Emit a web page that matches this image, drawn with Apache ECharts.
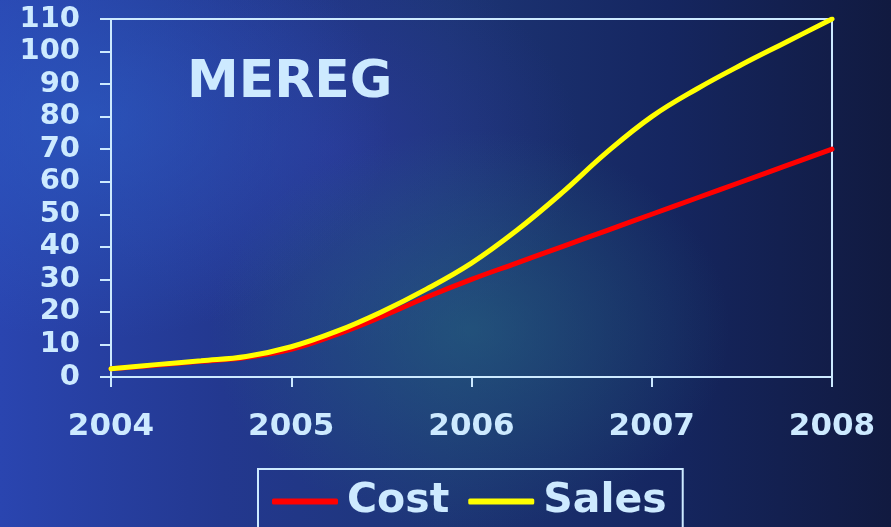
<!DOCTYPE html>
<html>
<head>
<meta charset="utf-8">
<script src="https://cdn.jsdelivr.net/npm/echarts@6/dist/echarts.min.js"></script>
<style>
html,body{margin:0;padding:0;width:891px;height:527px;overflow:hidden;}
body{
  background:
    radial-gradient(ellipse 260px 200px at 470px 330px, rgba(40,110,130,0.5), rgba(40,110,130,0) 100%),
    radial-gradient(ellipse 300px 220px at 90px 120px, rgba(45,95,200,0.6), rgba(45,95,200,0) 100%),
    radial-gradient(ellipse 250px 200px at 330px 150px, rgba(50,60,170,0.45), rgba(50,60,170,0) 100%),
    linear-gradient(90deg, #2a45b0 0%, #23388f 25%, #1d3576 50%, #152660 75%, #111a40 100%);
}
#chart{width:891px;height:527px;}
</style>
</head>
<body>
<div id="chart"></div>
<script>
const years = [2004, 2008];
const yTicks = [0, 110, 10];
const seriesNames = ['Cost', 'Sales'];
const xPoints = [2004, 2004.25, 2004.5, 2004.75, 2005, 2005.25, 2005.5, 2005.75, 2006, 2006.25, 2006.5, 2006.75, 2007, 2007.25, 2007.5, 2007.75, 2008];
const costValues = [2.5, 3.6, 4.8, 6, 8.5, 13, 18.5, 24.5, 30, 35, 40, 45, 50, 55, 60, 65, 70];
const salesValues = [2.5, 3.8, 5, 6.3, 9.3, 14, 20, 27, 35, 45, 56.5, 69, 80, 88.5, 96, 103, 110];

const txt = '#cdeaff';
const chart = echarts.init(document.getElementById('chart'));
const toPairs = vals => xPoints.map((x, i) => [x, vals[i]]);

chart.setOption({
  animation: false,
  backgroundColor: 'transparent',
  textStyle: {fontFamily: 'DejaVu Sans', fontWeight: 'bold'},
  title: {
    text: 'MEREG', left: 182, top: 52,
    textStyle: {color: txt, fontSize: 52, fontWeight: 'bold', fontFamily: 'DejaVu Sans'}
  },
  grid: {left: 111, right: 59, top: 19, bottom: 150, show: true, borderColor: txt, borderWidth: 2, backgroundColor: 'transparent'},
  legend: {
    data: [
      {name: seriesNames[0], icon: 'roundRect', itemStyle: {color: '#ff0000'}},
      {name: seriesNames[1], icon: 'roundRect', itemStyle: {color: '#ffff00'}}
    ],
    left: 258, top: 469,
    itemWidth: 66, itemHeight: 6, itemGap: 19,
    borderColor: txt, borderWidth: 2, borderRadius: 0,
    padding: [12, 16, 40, 14],
    textStyle: {color: txt, fontSize: 41, fontWeight: 'bold', fontFamily: 'DejaVu Sans', padding: [0, 0, 0, 4]}
  },
  xAxis: {
    type: 'value', min: years[0], max: years[1], interval: 1,
    axisLine: {show: true, lineStyle: {color: txt, width: 2}},
    axisTick: {show: true, length: 10, lineStyle: {color: txt, width: 2}},
    splitLine: {show: false},
    axisLabel: {color: txt, fontSize: 31, fontWeight: 'bold', margin: 34, formatter: v => String(v)}
  },
  yAxis: {
    type: 'value', min: yTicks[0], max: yTicks[1], interval: yTicks[2],
    axisLine: {show: true, lineStyle: {color: txt, width: 2}},
    axisTick: {show: true, length: 11, lineStyle: {color: txt, width: 2}},
    splitLine: {show: false},
    axisLabel: {color: txt, fontSize: 29, fontWeight: 'bold', margin: 31}
  },
  series: [
    {name: seriesNames[0], type: 'line', data: toPairs(costValues), smooth: 0.4, showSymbol: false, symbol: 'none',
     lineStyle: {color: '#ff0000', width: 5, cap: 'round'}, itemStyle: {color: '#ff0000'}},
    {name: seriesNames[1], type: 'line', data: toPairs(salesValues), smooth: 0.4, showSymbol: false, symbol: 'none',
     lineStyle: {color: '#ffff00', width: 5, cap: 'round'}, itemStyle: {color: '#ffff00'}}
  ]
});
</script>
</body>
</html>
